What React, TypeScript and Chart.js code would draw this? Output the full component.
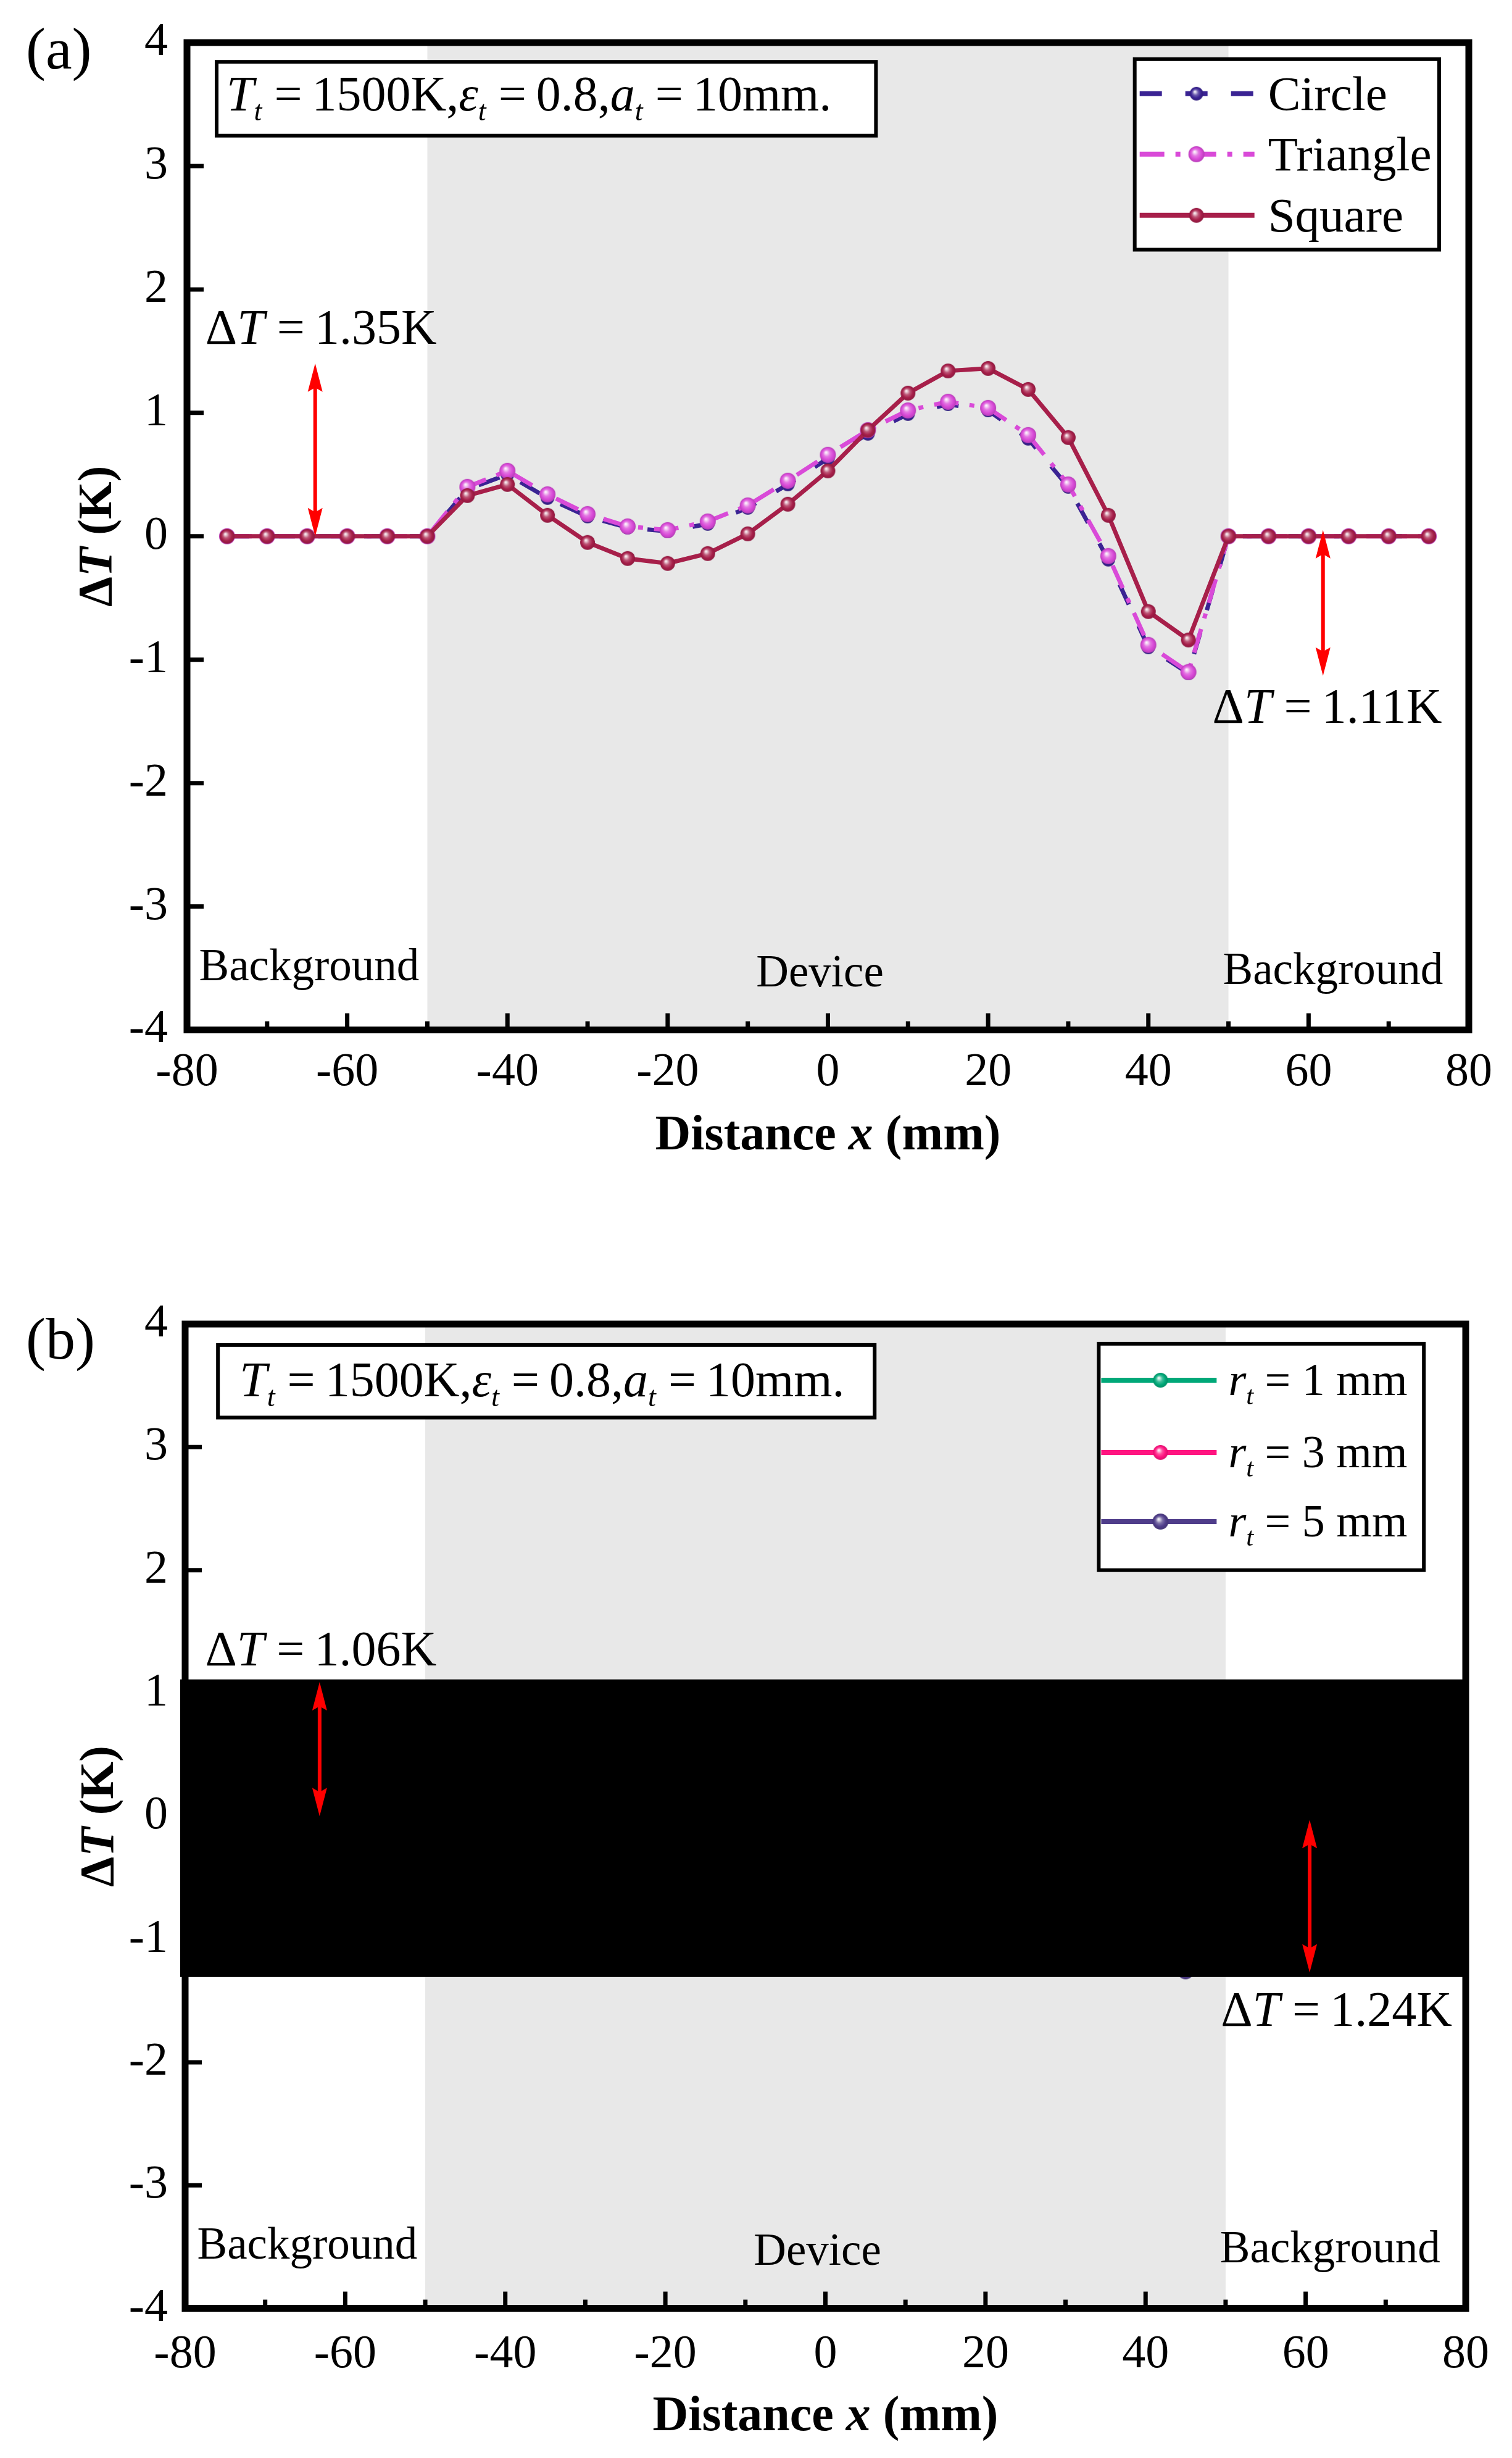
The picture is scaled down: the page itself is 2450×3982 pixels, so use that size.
import React, { useEffect, useRef } from "react";
import { Chart, registerables } from "chart.js";

Chart.register(...registerables);

// ---- data ----
const distance = [
  -75, -70, -65, -60, -55, -50, -45, -40, -35, -30, -25, -20, -15, -10, -5, 0,
  5, 10, 15, 20, 25, 30, 35, 40, 45, 50, 55, 60, 65, 70, 75,
];

// panel (a)
const circleA = [
  0, 0, 0, 0, 0, 0, 0.38, 0.5, 0.31, 0.16, 0.07, 0.04, 0.1, 0.23, 0.42, 0.63,
  0.83, 0.99, 1.07, 1.02, 0.79, 0.4, -0.19, -0.9, -1.11, 0, 0, 0, 0, 0, 0,
];
const triangleA = [
  0, 0, 0, 0, 0, 0, 0.4, 0.53, 0.34, 0.18, 0.08, 0.05, 0.12, 0.25, 0.45, 0.66,
  0.86, 1.02, 1.09, 1.04, 0.82, 0.42, -0.16, -0.88, -1.1, 0, 0, 0, 0, 0, 0,
];
const squareA = [
  0, 0, 0, 0, 0, 0, 0.33, 0.42, 0.17, -0.05, -0.18, -0.22, -0.14, 0.02, 0.26,
  0.53, 0.86, 1.16, 1.34, 1.36, 1.19, 0.8, 0.17, -0.61, -0.84, 0, 0, 0, 0, 0, 0,
];

// panel (b) (mostly hidden behind the black band, estimated)
const r1B = [
  0, 0, 0, 0, 0, 0, 0.3, 0.4, 0.25, 0.1, 0.0, -0.03, 0.03, 0.17, 0.37, 0.58,
  0.78, 0.93, 1.0, 0.96, 0.76, 0.38, -0.18, -0.85, -1.08, 0, 0, 0, 0, 0, 0,
];
const r3B = [
  0, 0, 0, 0, 0, 0, 0.32, 0.43, 0.27, 0.11, 0.01, -0.02, 0.05, 0.19, 0.4, 0.61,
  0.81, 0.97, 1.04, 1.0, 0.79, 0.4, -0.19, -0.9, -1.15, 0, 0, 0, 0, 0, 0,
];
const r5B = [
  0, 0, 0, 0, 0, 0, 0.34, 0.45, 0.29, 0.12, 0.02, -0.01, 0.06, 0.21, 0.42, 0.64,
  0.84, 0.99, 1.04, 1.01, 0.81, 0.41, -0.21, -0.95, -1.26, 0, 0, 0, 0, 0, 0,
];

const xRange = [-80, 80];
const yRange = [-4, 4];
const deviceRange = [-50, 50];
const maskRangeB = [1.112, -1.307];

const FONT = '"Liberation Serif", "Times New Roman", serif';
const W = 2450;
const H = 1991;
const TH = "\u2009"; // thin space

type Seg = { t: string; it?: boolean; sub?: boolean };

const fnt = (size: number, it = false, bold = false) =>
  `${it ? "italic " : ""}${bold ? "bold " : ""}${size}px ${FONT}`;

function richWidth(ctx: CanvasRenderingContext2D, segs: Seg[], size: number, bold = false) {
  let w = 0;
  for (const s of segs) {
    ctx.font = fnt(s.sub ? size * 0.58 : size, s.it, bold);
    w += ctx.measureText(s.t).width;
  }
  return w;
}

function drawRich(
  ctx: CanvasRenderingContext2D,
  segs: Seg[],
  x: number,
  yMid: number,
  size: number,
  align: "left" | "center" = "left",
  bold = false
) {
  const w = richWidth(ctx, segs, size, bold);
  let cx = align === "left" ? x : x - w / 2;
  const base = yMid + size * 0.33;
  ctx.textAlign = "left";
  ctx.textBaseline = "alphabetic";
  ctx.fillStyle = "#000";
  for (const s of segs) {
    ctx.font = fnt(s.sub ? size * 0.58 : size, s.it, bold);
    ctx.fillText(s.t, cx, s.sub ? base + size * 0.2 : base);
    cx += ctx.measureText(s.t).width;
  }
}

function mix(hex: string, to: number, k: number) {
  const n = parseInt(hex.slice(1), 16);
  const c = [(n >> 16) & 255, (n >> 8) & 255, n & 255].map((v) => Math.round(v + (to - v) * k));
  return `rgb(${c[0]},${c[1]},${c[2]})`;
}

function sphere(color: string, r: number) {
  const d = Math.ceil(2 * r + 2);
  const c = document.createElement("canvas");
  c.width = d;
  c.height = d;
  const g = c.getContext("2d")!;
  const m = d / 2;
  const grad = g.createRadialGradient(m - r * 0.25, m - r * 0.32, 0, m, m, r);
  grad.addColorStop(0, "#ffffff");
  grad.addColorStop(0.16, mix(color, 255, 0.75));
  grad.addColorStop(0.42, mix(color, 255, 0.25));
  grad.addColorStop(0.72, color);
  grad.addColorStop(1, mix(color, 0, 0.15));
  g.fillStyle = grad;
  g.beginPath();
  g.arc(m, m, r, 0, Math.PI * 2);
  g.fill();
  return c;
}

type SeriesSpec = {
  label: Seg[];
  values: number[];
  color: string;
  dash: number[];
  radius: number;
  order: number;
};

type PanelSpec = {
  tag: string;
  tagPos: [number, number];
  area: { top: number; bottom: number; left: number; right: number };
  xTitleY: number;
  yTitleX: number;
  xLabelPad: number;
  yLabelPad: number;
  series: SeriesSpec[];
  arrows: { x: number; y0: number; y1: number }[];
  notes: { segs: Seg[]; x: number; y: number }[];
  regions: { text: string; x: number; y: number; align: "left" | "center" }[];
  paramBox: { x0: number; x1: number; y0: number; y1: number; dx: number; dy: number };
  legend: {
    x0: number; x1: number; y0: number; y1: number;
    rows: number[]; line: [number, number]; marker: number; text: number; size: number;
  };
  mask?: number[];
};

const paramText: Seg[] = [
  { t: "T", it: true }, { t: "t", it: true, sub: true }, { t: " =" + TH + "1500K," },
  { t: "ε", it: true }, { t: "t", it: true, sub: true }, { t: " =" + TH + "0.8," },
  { t: "a", it: true }, { t: "t", it: true, sub: true }, { t: " =" + TH + "10mm." },
];
const dT = (v: string): Seg[] => [{ t: "Δ" }, { t: "T", it: true }, { t: " =" + TH + v }];
const rt = (v: string): Seg[] => [{ t: "r", it: true }, { t: "t", it: true, sub: true }, { t: " = " + v + " mm" }];

const regions = [
  { text: "Background", x: -78.5, y: -3.5, align: "left" as const },
  { text: "Device", x: -1, y: -3.55, align: "center" as const },
  { text: "Background", x: 49.3, y: -3.53, align: "left" as const },
];

const panelA: PanelSpec = {
  tag: "(a)",
  tagPos: [42, 86],
  area: { top: 63, bottom: 1668.5, left: 303, right: 2381 },
  xTitleY: 1836,
  yTitleX: 154,
  xLabelPad: 32,
  yLabelPad: 31,
  series: [
    { label: [{ t: "Circle" }], values: circleA, color: "#3a2393", dash: [36, 38], radius: 11, order: 2 },
    { label: [{ t: "Triangle" }], values: triangleA, color: "#d94ad8", dash: [40, 18, 8, 18], radius: 13, order: 1 },
    { label: [{ t: "Square" }], values: squareA, color: "#a71f4a", dash: [], radius: 12, order: 0 },
  ],
  arrows: [
    { x: -64, y0: 0, y1: 1.4 },
    { x: 61.8, y0: 0.05, y1: -1.13 },
  ],
  notes: [
    { segs: dT("1.35K"), x: -77.7, y: 1.69 },
    { segs: dT("1.11K"), x: 48.0, y: -1.38 },
  ],
  regions,
  paramBox: { x0: -76.3, x1: 6.0, y0: 3.844, y1: 3.246, dx: 16, dy: 52 },
  legend: { x0: 38.3, x1: 76.3, y0: 3.866, y1: 2.322, rows: [56, 154, 253], line: [8, 194], marker: 100, text: 216, size: 79 },
};

const panelB: PanelSpec = {
  tag: "(b)",
  tagPos: [42, 185],
  area: { top: 154, bottom: 1748.6, left: 300, right: 2379 },
  xTitleY: 1920,
  yTitleX: 157,
  xLabelPad: 37,
  yLabelPad: 28,
  series: [
    { label: rt("1"), values: r1B, color: "#00a878", dash: [], radius: 12, order: 2 },
    { label: rt("3"), values: r3B, color: "#ff1480", dash: [], radius: 12, order: 1 },
    { label: rt("5"), values: r5B, color: "#4f3d8a", dash: [], radius: 13, order: 0 },
  ],
  arrows: [
    { x: -63.2, y0: 0, y1: 1.09 },
    { x: 60.5, y0: -0.03, y1: -1.27 },
  ],
  notes: [
    { segs: dT("1.06K"), x: -77.5, y: 1.36 },
    { segs: dT("1.24K"), x: 49.4, y: -1.57 },
  ],
  regions,
  paramBox: { x0: -75.9, x1: 6.15, y0: 3.83, y1: 3.24, dx: 35, dy: 57 },
  legend: { x0: 34.15, x1: 74.77, y0: 3.84, y1: 2.0, rows: [59, 176, 288], line: [4, 191], marker: 100, text: 210, size: 74 },
  mask: maskRangeB,
};

function arrowHead(ctx: CanvasRenderingContext2D, x: number, tipY: number, dir: number) {
  const len = 46;
  const hw = 12;
  ctx.beginPath();
  ctx.moveTo(x, tipY);
  ctx.lineTo(x - hw, tipY + dir * len);
  ctx.lineTo(x, tipY + dir * len * 0.85);
  ctx.lineTo(x + hw, tipY + dir * len);
  ctx.closePath();
  ctx.fill();
}

function decor(spec: PanelSpec, sprites: HTMLCanvasElement[]) {
  return {
    id: "decor",
    beforeDatasetsDraw(chart: any) {
      const { ctx, chartArea: a, scales } = chart;
      const x0 = scales.x.getPixelForValue(deviceRange[0]);
      const x1 = scales.x.getPixelForValue(deviceRange[1]);
      ctx.save();
      ctx.fillStyle = "#e8e8e8";
      ctx.fillRect(x0, a.top, x1 - x0, a.bottom - a.top);
      ctx.restore();
    },
    afterDatasetsDraw(chart: any) {
      const { ctx, chartArea: a, scales } = chart;
      const xs = scales.x;
      const ys = scales.y;
      ctx.save();

      if (spec.mask) {
        const t = ys.getPixelForValue(spec.mask[0]);
        const b = ys.getPixelForValue(spec.mask[1]);
        ctx.fillStyle = "#000";
        ctx.fillRect(a.left - 8, t, a.right - a.left + 13, b - t);
      }

      // frame
      ctx.strokeStyle = "#000";
      ctx.lineWidth = 11;
      ctx.strokeRect(a.left, a.top, a.right - a.left, a.bottom - a.top);

      // inward ticks
      ctx.lineWidth = 7;
      ctx.beginPath();
      for (let v = yRange[0] + 1; v < yRange[1]; v++) {
        const py = ys.getPixelForValue(v);
        ctx.moveTo(a.left, py);
        ctx.lineTo(a.left + 27, py);
      }
      for (let v = xRange[0] + 10; v < xRange[1]; v += 10) {
        const px = xs.getPixelForValue(v);
        ctx.moveTo(px, a.bottom);
        ctx.lineTo(px, a.bottom - (v % 20 === 0 ? 27 : 14));
      }
      ctx.stroke();

      // arrows
      ctx.strokeStyle = "#ff0000";
      ctx.fillStyle = "#ff0000";
      ctx.lineWidth = 6;
      for (const ar of spec.arrows) {
        const px = xs.getPixelForValue(ar.x);
        const p0 = ys.getPixelForValue(ar.y0);
        const p1 = ys.getPixelForValue(ar.y1);
        const dir = p1 < p0 ? 1 : -1;
        ctx.beginPath();
        ctx.moveTo(px, p0 - dir * 30);
        ctx.lineTo(px, p1 + dir * 30);
        ctx.stroke();
        arrowHead(ctx, px, p1, dir);
        arrowHead(ctx, px, p0, -dir);
      }

      // notes
      for (const n of spec.notes) {
        drawRich(ctx, n.segs, xs.getPixelForValue(n.x), ys.getPixelForValue(n.y), 80);
      }
      for (const r of spec.regions) {
        ctx.font = fnt(73);
        ctx.fillStyle = "#000";
        ctx.textBaseline = "middle";
        ctx.textAlign = r.align;
        ctx.fillText(r.text, xs.getPixelForValue(r.x), ys.getPixelForValue(r.y));
      }

      // parameter box
      const pb = spec.paramBox;
      const bx0 = xs.getPixelForValue(pb.x0);
      const bx1 = xs.getPixelForValue(pb.x1);
      const by0 = ys.getPixelForValue(pb.y0);
      const by1 = ys.getPixelForValue(pb.y1);
      ctx.fillStyle = "#fff";
      ctx.fillRect(bx0, by0, bx1 - bx0, by1 - by0);
      ctx.strokeStyle = "#000";
      ctx.lineWidth = 6;
      ctx.strokeRect(bx0, by0, bx1 - bx0, by1 - by0);
      drawRich(ctx, paramText, bx0 + pb.dx, by0 + pb.dy, 80);

      // legend
      const lg = spec.legend;
      const lx0 = xs.getPixelForValue(lg.x0);
      const lx1 = xs.getPixelForValue(lg.x1);
      const ly0 = ys.getPixelForValue(lg.y0);
      const ly1 = ys.getPixelForValue(lg.y1);
      ctx.fillStyle = "#fff";
      ctx.fillRect(lx0, ly0, lx1 - lx0, ly1 - ly0);
      ctx.strokeStyle = "#000";
      ctx.lineWidth = 6;
      ctx.strokeRect(lx0, ly0, lx1 - lx0, ly1 - ly0);
      spec.series.forEach((s, i) => {
        const ry = ly0 + lg.rows[i];
        ctx.strokeStyle = s.color;
        ctx.lineWidth = 8;
        ctx.setLineDash(s.dash);
        ctx.beginPath();
        ctx.moveTo(lx0 + lg.line[0], ry);
        ctx.lineTo(lx0 + lg.line[1], ry);
        ctx.stroke();
        ctx.setLineDash([]);
        const sp = sprites[i];
        ctx.drawImage(sp, lx0 + lg.marker - sp.width / 2, ry - sp.height / 2);
        drawRich(ctx, s.label, lx0 + lg.text, ry, lg.size);
      });

      // axis titles and panel tag
      drawRich(
        ctx,
        [{ t: "Distance " }, { t: "x", it: true }, { t: " (mm)" }],
        (a.left + a.right) / 2,
        spec.xTitleY,
        80,
        "center",
        true
      );
      ctx.save();
      ctx.translate(spec.yTitleX, (a.top + a.bottom) / 2);
      ctx.rotate(-Math.PI / 2);
      drawRich(ctx, [{ t: "Δ" }, { t: "T", it: true }, { t: " (K)" }], 0, 0, 78, "center", true);
      ctx.restore();

      ctx.font = fnt(96);
      ctx.fillStyle = "#000";
      ctx.textAlign = "left";
      ctx.textBaseline = "middle";
      ctx.fillText(spec.tag, spec.tagPos[0], spec.tagPos[1]);

      ctx.restore();
    },
  };
}

function buildConfig(spec: PanelSpec): any {
  const sprites = spec.series.map((s) => sphere(s.color, s.radius));
  const tickFont = { family: FONT, size: 76, lineHeight: 1 };
  return {
    type: "line",
    data: {
      datasets: spec.series.map((s, i) => ({
        label: s.label.map((g) => g.t).join(""),
        data: distance.map((x, k) => ({ x, y: s.values[k] })),
        borderColor: s.color,
        backgroundColor: s.color,
        borderWidth: 7,
        borderDash: s.dash,
        pointStyle: sprites[i],
        pointRadius: s.radius,
        tension: 0,
        fill: false,
        order: s.order,
      })),
    },
    options: {
      animation: false,
      responsive: false,
      maintainAspectRatio: false,
      devicePixelRatio: 1,
      events: [],
      layout: {
        padding: { top: spec.area.top, right: W - spec.area.right, bottom: 0, left: 0 },
      },
      plugins: { legend: { display: false }, tooltip: { enabled: false } },
      scales: {
        x: {
          type: "linear",
          min: xRange[0],
          max: xRange[1],
          grid: { display: false, drawTicks: false },
          border: { display: false },
          ticks: {
            stepSize: 20,
            autoSkip: false,
            maxRotation: 0,
            padding: spec.xLabelPad,
            color: "#000",
            font: tickFont,
            callback: (v: any) => String(v),
          },
          afterFit: (sc: any) => {
            sc.height = H - spec.area.bottom;
          },
        },
        y: {
          type: "linear",
          min: yRange[0],
          max: yRange[1],
          grid: { display: false, drawTicks: false },
          border: { display: false },
          ticks: {
            stepSize: 1,
            padding: spec.yLabelPad,
            color: "#000",
            font: tickFont,
            callback: (v: any) => String(v),
          },
          afterFit: (sc: any) => {
            sc.width = spec.area.left;
          },
        },
      },
    },
    plugins: [decor(spec, sprites)],
  };
}

function Panel({ spec }: { spec: PanelSpec }) {
  const ref = useRef<HTMLCanvasElement | null>(null);
  useEffect(() => {
    if (!ref.current) return;
    const chart = new Chart(ref.current, buildConfig(spec));
    return () => chart.destroy();
  }, [spec]);
  return <canvas ref={ref} width={W} height={H} style={{ display: "block", width: W, height: H }} />;
}

export default function App() {
  return (
    <div style={{ position: "absolute", left: 0, top: 0, width: W, height: H * 2, background: "#fff" }}>
      <Panel spec={panelA} />
      <Panel spec={panelB} />
    </div>
  );
}
